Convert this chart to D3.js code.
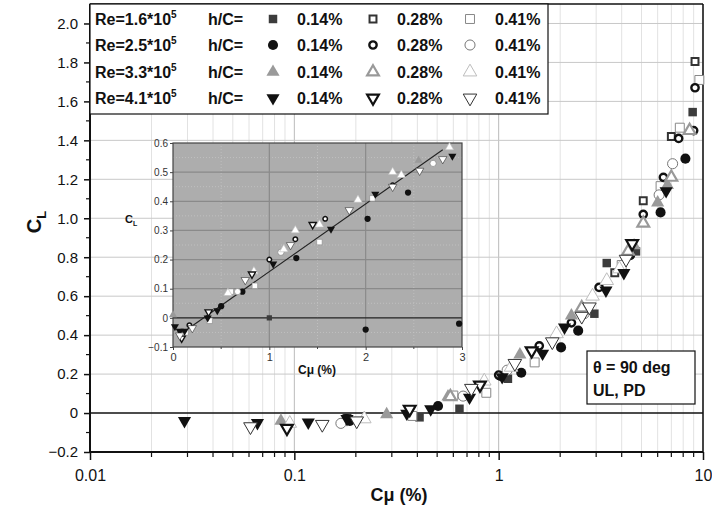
<!DOCTYPE html>
<html><head><meta charset="utf-8">
<script src="https://cdn.jsdelivr.net/npm/d3@7"></script>
<style>
html,body{margin:0;padding:0;background:#fff;}
svg{display:block;font-family:"Liberation Sans",Arial,sans-serif;}
</style></head>
<body><svg id="c" width="712" height="512"></svg>
<script>
// ---------- DATA ----------
const yTicks = [-0.2,0,0.2,0.4,0.6,0.8,1.0,1.2,1.4,1.6,1.8,2.0];
const xTicks = [0.01,0.1,1,10];
const reLabels = ["1.6","2.5","3.3","4.1"];
const hcLabels = ["0.14%","0.28%","0.41%"];

// main chart series: [Cmu(%), CL]
const r16_14 = [[0.41,-0.022],[0.643,0.022],[1.11,0.176],[2.94,0.51],[3.38,0.77],[4.7,0.83],[8.9,1.545]];
const r16_28 = [[0.181,-0.027],[3.7,0.72],[5.1,1.09],[7.0,1.42],[9.14,1.805]];
const r16_41 = [[0.378,-0.015],[0.6,0.09],[0.87,0.104],[1.5,0.26],[4.0,0.76],[6.2,1.165],[7.7,1.465],[9.6,1.71]];
const r25_14 = [[0.187,-0.04],[0.505,0.036],[1.02,0.19],[1.29,0.207],[2.02,0.337],[2.45,0.423],[4.4,0.81],[6.2,1.03],[8.2,1.306]];
const r25_28 = [[0.18,-0.03],[1.0,0.195],[1.58,0.345],[2.27,0.463],[3.1,0.645],[5.1,1.02],[6.4,1.21],[7.6,1.41],[9.14,1.67],[9.0,1.45]];
const r25_41 = [[0.169,-0.053],[0.67,0.087],[1.1,0.22],[2.62,0.51],[6.1,1.12],[7.1,1.28]];
const r33_14 = [[0.086,-0.04],[0.283,-0.007],[0.565,0.084],[1.27,0.3],[2.27,0.5],[4.6,0.86],[6.0,1.08],[6.7,1.17]];
const r33_28 = [[0.58,0.084],[2.55,0.54],[4.3,0.83],[5.1,0.975],[7.0,1.21],[8.6,1.45]];
const r33_41 = [[0.095,-0.053],[0.22,-0.03],[0.85,0.164],[1.15,0.235],[1.92,0.407],[2.88,0.6],[3.38,0.68],[3.9,0.74]];
const r41_14 = [[0.029,-0.04],[0.066,-0.05],[0.117,-0.048],[0.181,-0.03],[0.355,-0.002],[0.465,0.02],[0.72,0.08],[1.04,0.185],[1.64,0.306],[2.1,0.44],[3.35,0.63],[4.1,0.72],[6.6,1.14]];
const r41_28 = [[0.092,-0.078],[0.367,0.02],[0.81,0.144],[1.45,0.32],[4.5,0.87]];
const r41_41 = [[0.061,-0.07],[0.137,-0.058],[0.202,-0.04],[0.735,0.127],[1.2,0.255],[1.83,0.366],[2.55,0.497],[2.78,0.545],[4.2,0.79]];

// inset (linear scale) series
const in41_14 = [[0.02,-0.03],[0.07,-0.045],[0.12,-0.045],[0.36,0.0],[0.46,0.025],[1.04,0.185],[1.64,0.305],[2.1,0.425],[2.9,0.555]];
const in41_28 = [[0.09,-0.07],[0.37,0.02],[0.82,0.15],[1.45,0.32]];
const in41_41 = [[0.07,-0.06],[0.2,-0.035],[0.75,0.13],[1.22,0.25],[1.83,0.37],[2.28,0.45],[2.56,0.505],[2.8,0.545]];
const in25_14 = [[0.5,0.04],[0.72,0.09],[1.28,0.205],[2.02,0.34],[2.44,0.43],[2.0,-0.04],[2.97,-0.02]];
const in25_28 = [[0.17,-0.025],[1.0,0.2],[1.58,0.34],[1.27,0.27],[2.28,0.455]];
const in25_41 = [[0.67,0.09],[1.12,0.225],[2.7,0.53]];
const in16_14 = [[1.0,0.0]];
const in16_41 = [[0.13,-0.05],[0.38,-0.01],[0.6,0.09],[0.85,0.11],[1.52,0.26],[2.07,0.41]];
const in33_41 = [[0.57,0.085],[0.84,0.16],[1.15,0.235],[1.27,0.3],[1.52,0.32],[1.92,0.405],[2.28,0.5],[2.37,0.49],[2.87,0.585]];
const in33_14 = [[0.0,0.01],[2.55,0.54]];
const fitX = [0.15,2.8];
const fitY = [-0.039,0.577];
const insetYTicks = [-0.1,0,0.1,0.2,0.3,0.4,0.5,0.6];
const insetXTicks = [0,1,2,3];

// ---------- STYLES ----------
const styles = {
  r16_14:{shape:"square",fill:"#3c3c3c",stroke:"none",sw:0,size:72},
  r16_28:{shape:"square",fill:"#fff",stroke:"#333",sw:2,size:48},
  r16_41:{shape:"square",fill:"#fff",stroke:"#888",sw:1,size:80},
  r25_14:{shape:"circle",fill:"#111",stroke:"none",sw:0,size:80},
  r25_28:{shape:"circle",fill:"#fff",stroke:"#111",sw:2.4,size:42},
  r25_41:{shape:"circle",fill:"#fff",stroke:"#777",sw:1,size:80},
  r33_14:{shape:"up",fill:"#9a9a9a",stroke:"none",sw:0,size:75},
  r33_28:{shape:"up",fill:"#fff",stroke:"#999",sw:2.2,size:60},
  r33_41:{shape:"up",fill:"#fff",stroke:"#bdbdbd",sw:1,size:80},
  r41_14:{shape:"down",fill:"#111",stroke:"none",sw:0,size:75},
  r41_28:{shape:"down",fill:"#fff",stroke:"#111",sw:2.2,size:60},
  r41_41:{shape:"down",fill:"#fff",stroke:"#333",sw:1,size:80}
};
const mainSeries = {r16_14,r16_28,r16_41,r25_14,r25_28,r25_41,r33_14,r33_28,r33_41,r41_14,r41_28,r41_41};
const insetSeries = {r16_14:in16_14,r16_41:in16_41,r25_14:in25_14,r25_28:in25_28,r25_41:in25_41,r33_14:in33_14,r33_41:in33_41,r41_14:in41_14,r41_28:in41_28,r41_41:in41_41};

const svg = d3.select("#c");
const M = {l:90,r:703,t:4,b:452};
const x = d3.scaleLog().domain([0.01,10]).range([M.l,M.r]);
const y = d3.scaleLinear().domain([-0.2,2.1]).range([M.b,M.t]);

function symPath(st, scale){
  const s = st.size*(scale||1);
  if(st.shape==="square") return d3.symbol(d3.symbolSquare, s)();
  if(st.shape==="circle") return d3.symbol(d3.symbolCircle, s)();
  return d3.symbol(d3.symbolTriangle, s)();
}
function drawMarker(g, st, px, py, scale){
  const rot = st.shape==="down" ? " rotate(180)" : "";
  g.append("path").attr("d", symPath(st, scale))
    .attr("transform", `translate(${px},${py})${rot}`)
    .attr("fill", st.fill).attr("stroke", st.stroke)
    .attr("stroke-width", st.sw*(scale? Math.max(0.6,Math.sqrt(scale)):1));
}

// ---------- GRID ----------
const grid = svg.append("g");
const minorX = [];
[0.01,0.1,1].forEach(d=>{ for(let k=1;k<=9;k++) minorX.push(d*k); });
minorX.push(10);
grid.selectAll("line.vx").data(minorX).join("line")
  .attr("x1",d=>x(d)).attr("x2",d=>x(d)).attr("y1",M.t).attr("y2",M.b)
  .attr("stroke",d=>xTicks.includes(+d.toPrecision(3))?"#bbb":"#e2e2e2").attr("stroke-width",1);
grid.selectAll("line.hy").data(yTicks.filter(d=>d!==0&&d!==-0.2)).join("line")
  .attr("x1",M.l).attr("x2",M.r).attr("y1",d=>y(d)).attr("y2",d=>y(d))
  .attr("stroke","#c8c8c8").attr("stroke-width",1);
svg.append("line").attr("x1",M.l).attr("x2",M.r).attr("y1",y(0)).attr("y2",y(0))
  .attr("stroke","#111").attr("stroke-width",1.6);

// ---------- AXES ----------
const yAxis = d3.axisLeft(y).tickValues(yTicks).tickSize(6).tickPadding(6)
  .tickFormat(d=> d===0 ? "0" : d3.format(".1f")(d));
const gy = svg.append("g").attr("transform",`translate(${M.l},0)`).call(yAxis);
gy.select(".domain").remove();
gy.selectAll("text").attr("font-size",15).attr("fill","#111");
gy.selectAll(".tick line").attr("stroke","#111").attr("stroke-width",1.5).attr("x2",-6);
const yMinor = d3.range(-0.1,2.1,0.2).map(v=>+v.toFixed(1));
svg.append("g").selectAll("line").data(yMinor).join("line")
  .attr("x1",M.l-4).attr("x2",M.l).attr("y1",d=>y(d)).attr("y2",d=>y(d)).attr("stroke","#111").attr("stroke-width",1.2);

const xAxis = d3.axisBottom(x).tickValues(xTicks).tickSize(8).tickPadding(6)
  .tickFormat(d=> String(d));
const gx = svg.append("g").attr("transform",`translate(0,${M.b})`).call(xAxis);
gx.select(".domain").remove();
gx.selectAll("text").attr("font-size",16).attr("fill","#111").attr("dy","0.95em");
gx.selectAll(".tick line").attr("stroke","#111").attr("stroke-width",1.5);
svg.append("g").selectAll("line").data(minorX.filter(d=>!xTicks.includes(+d.toPrecision(3)))).join("line")
  .attr("x1",d=>x(d)).attr("x2",d=>x(d)).attr("y1",M.b).attr("y2",M.b+5).attr("stroke","#111").attr("stroke-width",1.2);

// frame
svg.append("line").attr("x1",M.l).attr("x2",M.l).attr("y1",M.t).attr("y2",M.b).attr("stroke","#111").attr("stroke-width",2);
svg.append("line").attr("x1",M.l).attr("x2",M.r).attr("y1",M.b).attr("y2",M.b).attr("stroke","#111").attr("stroke-width",2);
svg.append("line").attr("x1",M.l).attr("x2",M.r).attr("y1",M.t).attr("y2",M.t).attr("stroke","#111").attr("stroke-width",1.5);
svg.append("line").attr("x1",M.r).attr("x2",M.r).attr("y1",M.t).attr("y2",M.b).attr("stroke","#111").attr("stroke-width",1.5);

// titles
const xt = svg.append("text").attr("x",399).attr("y",501).attr("text-anchor","middle")
  .attr("font-size",18).attr("font-weight","bold").attr("fill","#111");
xt.append("tspan").text("C");
xt.append("tspan").text("μ (%)");
const yt = svg.append("text").attr("transform","translate(41,222) rotate(-90)").attr("text-anchor","middle")
  .attr("font-size",20).attr("font-weight","bold").attr("fill","#111");
yt.append("tspan").text("C");
yt.append("tspan").attr("font-size",13).attr("dy",5).text("L");

// ---------- LEGEND ----------
const lg = svg.append("g");
lg.append("rect").attr("x",M.l).attr("y",M.t).attr("width",548-M.l).attr("height",114-M.t)
  .attr("fill","#fff").attr("stroke","#111").attr("stroke-width",1.2);
const rowY = [19,45,72,98];
const keys = [["r16_14","r16_28","r16_41"],["r25_14","r25_28","r25_41"],["r33_14","r33_28","r33_41"],["r41_14","r41_28","r41_41"]];
const mX = [273,373,470], tX = [297,397,495];
reLabels.forEach((re,i)=>{
  const t = lg.append("text").attr("x",95).attr("y",rowY[i]+6).attr("font-size",16).attr("font-weight","bold").attr("fill","#111");
  t.append("tspan").text("Re="+re+"*10");
  t.append("tspan").attr("font-size",10).attr("dy",-7).text("5");
  lg.append("text").attr("x",208).attr("y",rowY[i]+6).attr("font-size",16).attr("font-weight","bold").attr("fill","#111").text("h/C=");
  hcLabels.forEach((h,j)=>{
    drawMarker(lg, styles[keys[i][j]], mX[j], rowY[i]);
    lg.append("text").attr("x",tX[j]).attr("y",rowY[i]+6).attr("font-size",16).attr("font-weight","bold").attr("fill","#111").text(h);
  });
});

// ---------- INSET ----------
const I = {l:173,r:462,t:143,b:347};
const ix = d3.scaleLinear().domain([0,3]).range([I.l,I.r]);
const iy = d3.scaleLinear().domain([-0.1,0.6]).range([I.b,I.t]);
const ig = svg.append("g");
ig.append("rect").attr("x",I.l).attr("y",I.t).attr("width",I.r-I.l).attr("height",I.b-I.t).attr("fill","#adadad");
// minor dotted grid
ig.selectAll("line.mh").data(d3.range(-0.05,0.6,0.1)).join("line")
  .attr("x1",I.l).attr("x2",I.r).attr("y1",d=>iy(d)).attr("y2",d=>iy(d))
  .attr("stroke","#c4c4c4").attr("stroke-width",0.8).attr("stroke-dasharray","1,2");
ig.selectAll("line.mv").data([0.5,1.5,2.5]).join("line")
  .attr("x1",d=>ix(d)).attr("x2",d=>ix(d)).attr("y1",I.t).attr("y2",I.b)
  .attr("stroke","#c4c4c4").attr("stroke-width",0.8).attr("stroke-dasharray","1,2");
ig.selectAll("line.gh").data(insetYTicks.filter(d=>d!==0&&d!==-0.1&&d!==0.6)).join("line")
  .attr("x1",I.l).attr("x2",I.r).attr("y1",d=>iy(d)).attr("y2",d=>iy(d)).attr("stroke","#8a8a8a").attr("stroke-width",1.2);
ig.selectAll("line.gv").data([1,2]).join("line")
  .attr("x1",d=>ix(d)).attr("x2",d=>ix(d)).attr("y1",I.t).attr("y2",I.b).attr("stroke","#8a8a8a").attr("stroke-width",1.2);
ig.append("line").attr("x1",I.l).attr("x2",I.r).attr("y1",iy(0)).attr("y2",iy(0)).attr("stroke","#222").attr("stroke-width",1.3);
ig.append("rect").attr("x",I.l).attr("y",I.t).attr("width",I.r-I.l).attr("height",I.b-I.t).attr("fill","none").attr("stroke","#444").attr("stroke-width",1.2);
// inset axes
const iya = ig.append("g").attr("transform",`translate(${I.l},0)`).call(d3.axisLeft(iy).tickValues(insetYTicks).tickSize(3).tickPadding(2).tickFormat(d=>d===0?"0":d3.format(".1f")(d)));
iya.select(".domain").remove();
iya.selectAll("text").attr("font-size",10).attr("fill","#333");
iya.selectAll(".tick line").attr("stroke","#444");
const ixa = ig.append("g").attr("transform",`translate(0,${I.b})`).call(d3.axisBottom(ix).tickValues(insetXTicks).tickSize(3).tickPadding(3).tickFormat(d3.format("d")));
ixa.select(".domain").remove();
ixa.selectAll("text").attr("font-size",11).attr("fill","#333");
ixa.selectAll(".tick line").attr("stroke","#444");
ig.selectAll("line.mt").data([0.5,1.5,2.5]).join("line")
  .attr("x1",d=>ix(d)).attr("x2",d=>ix(d)).attr("y1",I.b).attr("y2",I.b+2).attr("stroke","#444");
// inset titles
const ity = ig.append("text").attr("x",125).attr("y",223).attr("font-size",11).attr("font-weight","bold").attr("fill","#111");
ity.append("tspan").text("C");
ity.append("tspan").attr("font-size",7).attr("dy",3).text("L");
ig.append("text").attr("x",317).attr("y",374).attr("text-anchor","middle").attr("font-size",12).attr("font-weight","bold").attr("fill","#111").text("Cμ (%)");
// fit line
ig.append("path").datum(d3.zip(fitX,fitY))
  .attr("d", d3.line().x(d=>ix(d[0])).y(d=>iy(d[1])))
  .attr("stroke","#222").attr("stroke-width",1.1).attr("fill","none");
// inset markers
Object.entries(insetSeries).forEach(([k,arr])=>{
  arr.forEach(d=> drawMarker(ig, styles[k], ix(d[0]), iy(d[1]), 0.38));
});

// ---------- MAIN DATA ----------
const dg = svg.append("g");
Object.entries(mainSeries).forEach(([k,arr])=>{
  arr.forEach(d=> drawMarker(dg, styles[k], x(d[0]), y(d[1])));
});

// ---------- ANNOTATION ----------
const ag = svg.append("g");
ag.append("rect").attr("x",587).attr("y",351).attr("width",108).attr("height",53).attr("fill","#fff").attr("stroke","#111").attr("stroke-width",1.2);
ag.append("text").attr("x",593).attr("y",373).attr("font-size",16).attr("font-weight","bold").attr("fill","#111").text("θ = 90 deg");
ag.append("text").attr("x",593).attr("y",396).attr("font-size",16).attr("font-weight","bold").attr("fill","#111").text("UL, PD");
</script>
</body></html>
